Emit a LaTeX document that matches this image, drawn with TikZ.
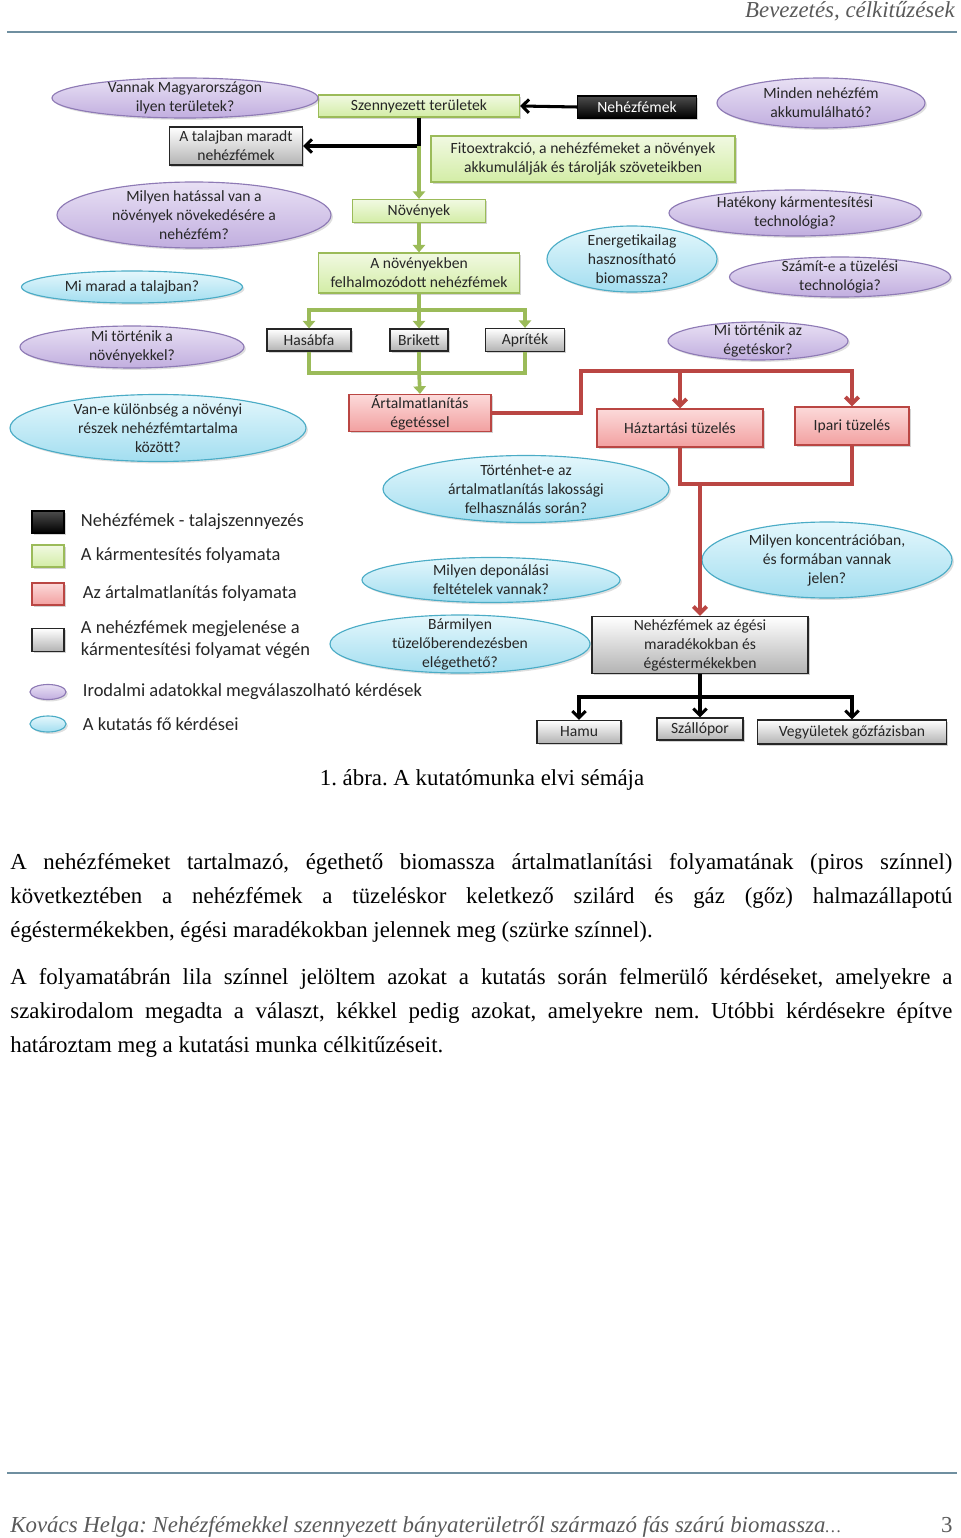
\documentclass[tikz,border=0pt]{standalone}
\usepackage{fontspec}
\setmainfont{Liberation Serif}
\newfontfamily\calibri{Carlito}
\usetikzlibrary{arrows.meta, positioning, shapes.geometric, shadows}
\frenchspacing

\newcommand\pxu{0.525pt}

\definecolor{grline}{HTML}{9BBB59}
\definecolor{grtop}{HTML}{F1F9E2}
\definecolor{grbot}{HTML}{D3EDA6}
\definecolor{rdline}{HTML}{BA4643}
\definecolor{rdtop}{HTML}{FCDADA}
\definecolor{rdbot}{HTML}{F2A0A0}
\definecolor{puline}{HTML}{8E7AB5}
\definecolor{putop}{HTML}{E8E0F4}
\definecolor{pubot}{HTML}{C1AEDF}
\definecolor{blline}{HTML}{4BACC6}
\definecolor{bltop}{HTML}{E4F7FC}
\definecolor{blbot}{HTML}{A3DEF0}
\definecolor{rulecol}{HTML}{6F8FA0}
\definecolor{hdrgray}{HTML}{5A5A5A}

\begin{document}
\begin{tikzpicture}[x=0.525pt, y=-0.525pt,
    boxsize/.style 2 args={minimum width=#1*\pxu, minimum height=#2*\pxu},
    diagfont/.style={font=\calibri\fontsize{8.2}{10}\selectfont},
    boxbase/.style={rectangle, inner sep=0pt, align=center, line width=0.6pt,
        diagfont, text=black!85,
        drop shadow={shadow xshift=1pt, shadow yshift=-1pt, opacity=0.35}},
    greenbox/.style={boxbase, draw=grline, top color=grtop, bottom color=grbot},
    redbox/.style={boxbase, draw=rdline, top color=rdtop, bottom color=rdbot},
    graybox/.style={boxbase, draw=black!85, top color=white, bottom color=black!30},
    blackbox/.style={boxbase, draw=black, top color=black!70, bottom color=black, text=white},
    question/.style={ellipse, inner sep=-30pt, align=center, line width=0.6pt,
        diagfont, text=black!85,
        drop shadow={shadow xshift=1pt, shadow yshift=-1pt, opacity=0.25}},
    purpleq/.style={question, draw=puline, top color=putop, bottom color=pubot},
    blueq/.style={question, draw=blline, top color=bltop, bottom color=blbot},
    blackline/.style={line width=1.6pt, -{Straight Barb[length=3.5pt, width=7pt]}},
    greenline/.style={line width=1.9pt, grline, -{Triangle[length=4pt, width=6.5pt]}},
    redline/.style={line width=2.1pt, rdline, -{Straight Barb[length=3.5pt, width=7pt]}},
    legendtext/.style={inner sep=0pt, align=left, text=black!85,
        font=\calibri\fontsize{9.7}{11.5}\selectfont},
    bodytext/.style={inner sep=0pt, text width=942*\pxu, align=justify,
        font=\fontsize{12}{17.85}\selectfont},
    pagetext/.style={inner sep=0pt, text=hdrgray, font=\fontsize{12}{14}\selectfont\itshape}
]
    \useasboundingbox (0,0) rectangle (960,1538);

    % header and footer
    \node[pagetext, anchor=base east] (Header) at (955,18) {Bevezetés, célkitűzések};
    \draw[rulecol, line width=1pt] (7,32) -- (957,32);
    \draw[rulecol, line width=1pt] (7,1473) -- (957,1473);
    \node[pagetext, anchor=base west] (Footer) at (10,1532)
        {Kovács Helga: Nehézfémekkel szennyezett bányaterületről származó fás szárú biomassza{\small\ldots}};
    \node[pagetext, anchor=base east, font=\fontsize{12}{14}\selectfont] (Page) at (953,1532) {3};

    % process boxes
    \node[greenbox, boxsize={201}{22}]  (Szennyezett)   at (419,106) {Szennyezett területek};
    \node[blackbox, boxsize={119}{22}]  (Nehezfemek)    at (637,107) {Nehézfémek};
    \node[graybox,  boxsize={133}{38}]  (Talajban)      at (236,146) {A talajban maradt\\nehézfémek};
    \node[greenbox, boxsize={304}{46}]  (Fitoextrakcio) at (583,159) {Fitoextrakció, a nehézfémeket  a növények\\akkumulálják és tárolják szöveteikben};
    \node[greenbox, boxsize={133}{23}]  (Novenyek)      at (419,211) {Növények};
    \node[greenbox, boxsize={201}{40}]  (Felhalmozodott) at (419,273) {A növényekben\\felhalmozódott nehézfémek};
    \node[graybox,  boxsize={84}{22}]   (Hasabfa)       at (309,340) {Hasábfa};
    \node[graybox,  boxsize={58}{22}]   (Brikett)       at (419,340) {Brikett};
    \node[graybox,  boxsize={79}{23}]   (Apritek)       at (525,340) {Apríték};
    \node[redbox,   boxsize={142}{37}]  (Artalmatlanitas) at (420,413) {Ártalmatlanítás\\égetéssel};
    \node[redbox,   boxsize={166}{38}]  (Haztartasi)    at (680,428) {Háztartási tüzelés};
    \node[redbox,   boxsize={114}{38}]  (Ipari)         at (852,426) {Ipari tüzelés};
    \node[graybox,  boxsize={216}{57}]  (Egesi)         at (700,645) {Nehézfémek az égési\\maradékokban és\\égéstermékekben};
    \node[graybox,  boxsize={84}{23}]   (Hamu)          at (579,732) {Hamu};
    \node[graybox,  boxsize={86}{22}]   (Szallopor)     at (700,729) {Szállópor};
    \node[graybox,  boxsize={189}{24}]  (Vegyuletek)    at (852,732) {Vegyületek gőzfázisban};

    % questions
    \node[purpleq, boxsize={266}{40}] (Vannak)      at (185,98)  {Vannak Magyarországon\\ilyen területek?};
    \node[purpleq, boxsize={208}{50}] (Minden)      at (821,103) {Minden nehézfém\\akkumulálható?};
    \node[purpleq, boxsize={274}{66}] (Hatassal)    at (194,215) {Milyen hatással van a\\növények növekedésére  a\\nehézfém?};
    \node[purpleq, boxsize={252}{46}] (Hatekony)    at (795,213) {Hatékony kármentesítési\\technológia?};
    \node[blueq,   boxsize={170}{66}] (Energetikai) at (632,259) {Energetikailag\\hasznosítható\\biomassza?};
    \node[blueq,   boxsize={221}{32}] (Mi marad)    at (132,287) {Mi marad a talajban?};
    \node[purpleq, boxsize={221}{40}] (Szamit)      at (840,277) {Számít-e a tüzelési\\technológia?};
    \node[purpleq, boxsize={224}{42}] (Mi tortenik) at (132,347) {Mi történik a\\növényekkel?};
    \node[purpleq, boxsize={180}{38}] (Egeteskor)   at (758,341) {Mi történik az\\égetéskor?};
    \node[blueq,   boxsize={296}{67}] (Kulonbseg)   at (158,428) {Van-e különbség a növényi\\részek nehézfémtartalma\\között?};
    \node[blueq,   boxsize={286}{67}] (Lakossagi)   at (526,489) {Történhet-e az\\ártalmatlanítás lakossági\\felhasználás során?};
    \node[blueq,   boxsize={250}{76}] (Koncentracio) at (827,560) {Milyen koncentrációban,\\és formában vannak\\jelen?};
    \node[blueq,   boxsize={258}{45}] (Deponalasi)  at (491,580) {Milyen deponálási\\feltételek vannak?};
    \node[blueq,   boxsize={260}{58}] (Barmilyen)   at (460,644) {Bármilyen\\tüzelőberendezésben\\elégethető?};

    % black connectors
    \coordinate (soil fork) at (Szennyezett.south |- Talajban.east);
    \draw[blackline] (Nehezfemek.west) -- (Szennyezett.east);
    \draw[blackline] (Szennyezett.south) -- (soil fork) -- (Talajban.east);

    % green connectors
    \coordinate (green split) at (419,310);
    \coordinate (green merge) at (419,373);
    \draw[greenline] (soil fork) -- (Novenyek.north);
    \draw[greenline] (Novenyek.south) -- (Felhalmozodott.north);
    \draw[greenline, -] (Felhalmozodott.south) -- (green split);
    \draw[greenline] (green split) -| (Hasabfa.north);
    \draw[greenline] (green split) -- (Brikett.north);
    \draw[greenline] (green split) -| (Apritek.north);
    \draw[greenline, -] (Hasabfa.south) |- (green merge) -| (Apritek.south);
    \draw[greenline, -] (Brikett.south) -- (green merge);
    \draw[greenline] (green merge) -- (Artalmatlanitas.north);

    % red connectors
    \coordinate (red top)  at (581,371);
    \coordinate (red fork) at (Haztartasi.north |- red top);
    \coordinate (red low)  at (680,484);
    \coordinate (red drop) at (Egesi.north |- red low);
    \draw[redline] (Artalmatlanitas.east) -| (red top) -| (Ipari.north);
    \draw[redline] (red fork) -- (Haztartasi.north);
    \draw[redline, -] (Haztartasi.south) -- (red low) -| (Ipari.south);
    \draw[redline] (red drop) -- (Egesi.north);

    % combustion products
    \coordinate (black split) at (700,697);
    \draw[blackline, -] (Egesi.south) -- (black split);
    \draw[blackline] (black split) -| (Hamu.north);
    \draw[blackline] (black split) -- (Szallopor.north);
    \draw[blackline] (black split) -| (Vegyuletek.north);

    % legend
    \node[blackbox, boxsize={32}{22}] (Leg black)  at (48,522) {};
    \node[greenbox, boxsize={32}{22}] (Leg green)  at (48,556) {};
    \node[redbox,   boxsize={32}{22}] (Leg red)    at (48,594) {};
    \node[graybox,  boxsize={32}{23}] (Leg gray)   at (48,640) {};
    \node[purpleq,  boxsize={36}{15}] (Leg purple) at (48,692) {};
    \node[blueq,    boxsize={36}{16}] (Leg blue)   at (48,724) {};

    \node[legendtext, right=8.4pt of Leg black]  (Leg black text)  {Nehézfémek - talajszennyezés};
    \node[legendtext, right=8.4pt of Leg green]  (Leg green text)  {A kármentesítés folyamata};
    \node[legendtext, right=9.4pt of Leg red]    (Leg red text)    {Az ártalmatlanítás folyamata};
    \node[legendtext, right=8.4pt of Leg gray]   (Leg gray text)   {A nehézfémek megjelenése a\\kármentesítési folyamat végén};
    \node[legendtext, right=8.4pt of Leg purple] (Leg purple text) {Irodalmi adatokkal megválaszolható kérdések};
    \node[legendtext, right=8.4pt of Leg blue]   (Leg blue text)   {A kutatás fő kérdései};

    % caption and text
    \node[inner sep=0pt, anchor=base, font=\fontsize{12}{14}\selectfont] (Caption) at (482,785)
        {1. ábra. A kutatómunka elvi sémája};
    \node[bodytext, anchor=base west] (Para one) at (10,869)
        {\hyphenpenalty=10000 \tolerance=9999
        A nehézfémeket tartalmazó, égethető biomassza ártalmatlanítási folyamatának (piros színnel)\linebreak
        következtében a nehézfémek a tüzeléskor keletkező szilárd és gáz (gőz) halmazállapotú\linebreak
        égéstermékekben, égési maradékokban jelennek meg (szürke színnel).};
    \node[bodytext, anchor=base west] (Para two) at (10,984)
        {\hyphenpenalty=10000 \tolerance=9999
        A folyamatábrán lila színnel jelöltem azokat a kutatás során felmerülő kérdéseket, amelyekre a\linebreak
        szakirodalom megadta a választ, kékkel pedig azokat, amelyekre nem. Utóbbi kérdésekre építve\linebreak
        határoztam meg a kutatási munka célkitűzéseit.};
\end{tikzpicture}
\end{document}
